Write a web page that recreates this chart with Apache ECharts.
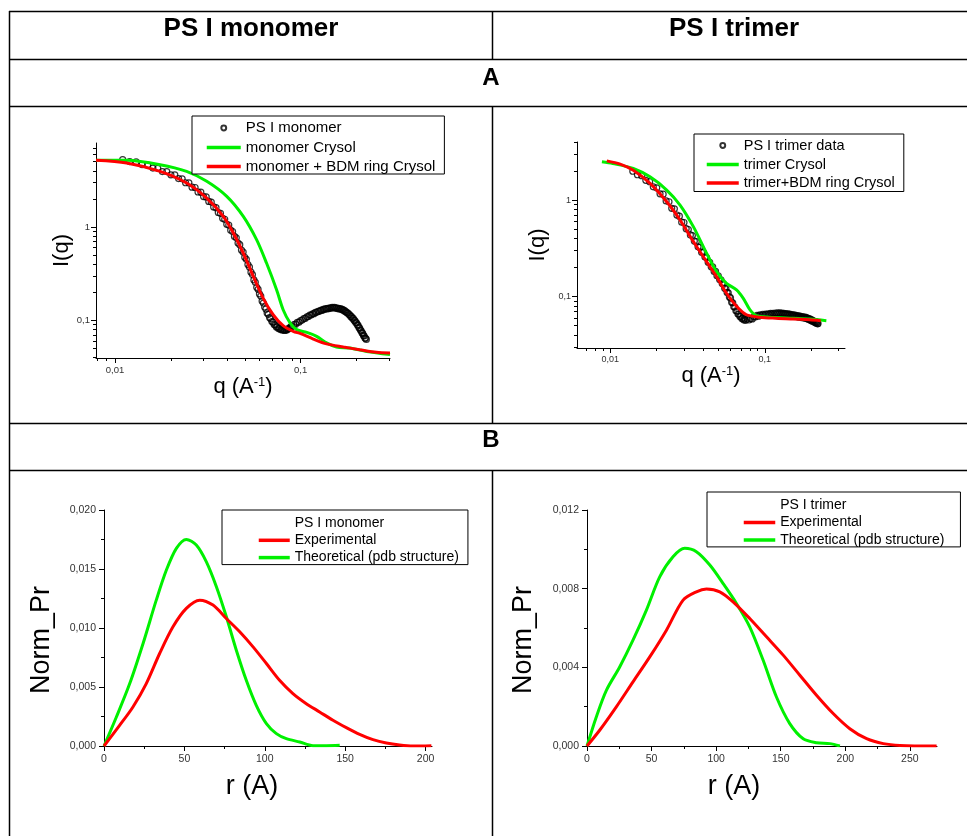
<!DOCTYPE html>
<html>
<head>
<meta charset="utf-8">
<script src="https://cdn.jsdelivr.net/npm/echarts@6/dist/echarts.min.js"></script>
<style>
html, body { margin: 0; padding: 0; background: #fff; }
#main { width: 967px; height: 836px; }
</style>
</head>
<body>
<div id="main"></div>
<script>
var FONT = 'Liberation Sans, Arial, Helvetica, sans-serif';

// ---- A: scattering curves, PS I monomer ----
var monoDataQ = [0.011, 0.012, 0.013, 0.014, 0.015, 0.016, 0.017, 0.018, 0.019, 0.020,
    0.021, 0.022, 0.023, 0.024, 0.025, 0.026, 0.027, 0.028, 0.029, 0.030,
    0.031, 0.032, 0.033, 0.034, 0.035, 0.036, 0.037, 0.038, 0.039, 0.040,
    0.041, 0.042, 0.043, 0.044, 0.045, 0.046, 0.047, 0.048, 0.049, 0.050,
    0.051, 0.052, 0.053, 0.054, 0.055, 0.056, 0.057, 0.058, 0.059, 0.060,
    0.061, 0.062, 0.063, 0.064, 0.065, 0.066, 0.067, 0.068, 0.069, 0.070,
    0.071, 0.072, 0.073, 0.074, 0.075, 0.076, 0.077, 0.078, 0.079, 0.080,
    0.081, 0.082, 0.083, 0.084, 0.085, 0.086, 0.087, 0.088, 0.089, 0.090,
    0.092, 0.094, 0.096, 0.098, 0.100, 0.102, 0.104, 0.106, 0.108, 0.110,
    0.112, 0.114, 0.116, 0.118, 0.120, 0.122, 0.124, 0.126, 0.128, 0.130,
    0.132, 0.134, 0.136, 0.138, 0.140, 0.142, 0.144, 0.146, 0.148, 0.150,
    0.152, 0.154, 0.156, 0.158, 0.160, 0.162, 0.164, 0.166, 0.168, 0.170,
    0.172, 0.174, 0.176, 0.178, 0.180, 0.182, 0.184, 0.186, 0.188, 0.190,
    0.192, 0.194, 0.196, 0.198, 0.200, 0.202, 0.204, 0.206, 0.208, 0.210,
    0.212, 0.214, 0.216, 0.218, 0.220, 0.222, 0.224, 0.226];
var monoDataI = [5.27, 5.02, 4.98, 4.66, 4.60, 4.28, 4.25, 3.92, 3.92, 3.62,
    3.61, 3.30, 3.28, 2.98, 2.97, 2.67, 2.65, 2.37, 2.36, 2.12,
    2.10, 1.88, 1.85, 1.64, 1.61, 1.43, 1.40, 1.24, 1.21, 1.07,
    1.05, 0.925, 0.895, 0.792, 0.765, 0.672, 0.646, 0.566, 0.540, 0.473,
    0.450, 0.396, 0.373, 0.328, 0.309, 0.271, 0.256, 0.226, 0.215, 0.192,
    0.182, 0.161, 0.153, 0.139, 0.132, 0.120, 0.116, 0.107, 0.104, 0.0970,
    0.0955, 0.0900, 0.0893, 0.0850, 0.0850, 0.0817, 0.0821, 0.0797, 0.0805, 0.0785,
    0.0795, 0.0780, 0.0795, 0.0786, 0.0808, 0.0806, 0.0832, 0.0832, 0.0860, 0.0860,
    0.0900, 0.0910, 0.0950, 0.0957, 0.0995, 0.1008, 0.1045, 0.1052, 0.1092, 0.1100,
    0.1138, 0.1140, 0.1175, 0.1179, 0.1215, 0.1218, 0.1252, 0.1248, 0.1280, 0.1276,
    0.1308, 0.1304, 0.1333, 0.1323, 0.1348, 0.1338, 0.1362, 0.1352, 0.1374, 0.1356,
    0.1374, 0.1352, 0.1362, 0.1338, 0.1348, 0.1323, 0.1333, 0.1304, 0.1308, 0.1277,
    0.1277, 0.1238, 0.1235, 0.1198, 0.1196, 0.1152, 0.1145, 0.1102, 0.1096, 0.1054,
    0.1048, 0.1004, 0.0993, 0.0950, 0.0940, 0.0898, 0.0883, 0.0840, 0.0825, 0.0786,
    0.0772, 0.0738, 0.0724, 0.0690, 0.0678, 0.0646, 0.0641, 0.0624];
var monoCrysolQ = [0.0079, 0.01156, 0.0175, 0.0243, 0.0312, 0.0400, 0.0491, 0.0579, 0.0655, 0.0742,
    0.0805, 0.0877, 0.0952, 0.108, 0.122, 0.138, 0.156, 0.184, 0.227, 0.303];
var monoCrysolI = [5.20, 5.18, 4.65, 3.94, 3.09, 2.13, 1.30, 0.732, 0.411, 0.213,
    0.130, 0.094, 0.0795, 0.0743, 0.0674, 0.0573, 0.0518, 0.0505, 0.0464, 0.0430];
var monoBdmQ = [0.0079, 0.01156, 0.0175, 0.0243, 0.0312, 0.0383, 0.0434, 0.0491, 0.0556, 0.0628,
    0.0711, 0.0805, 0.0913, 0.100, 0.117, 0.138, 0.170, 0.208, 0.256, 0.303];
var monoBdmI = [5.18, 4.85, 3.94, 2.96, 2.04, 1.30, 0.862, 0.526, 0.296, 0.173,
    0.115, 0.0876, 0.0762, 0.0720, 0.0630, 0.0559, 0.0518, 0.0485, 0.0455, 0.0447];

// ---- A: scattering curves, PS I trimer ----
var triDataQ = [0.014, 0.015, 0.016, 0.017, 0.018, 0.019, 0.020, 0.021, 0.022, 0.023,
    0.024, 0.025, 0.026, 0.027, 0.028, 0.029, 0.030, 0.031, 0.032, 0.033,
    0.034, 0.035, 0.036, 0.037, 0.038, 0.039, 0.040, 0.041, 0.042, 0.043,
    0.044, 0.045, 0.046, 0.047, 0.048, 0.049, 0.050, 0.051, 0.052, 0.053,
    0.054, 0.055, 0.056, 0.057, 0.058, 0.059, 0.060, 0.061, 0.062, 0.063,
    0.064, 0.065, 0.066, 0.067, 0.068, 0.069, 0.070, 0.071, 0.072, 0.073,
    0.074, 0.075, 0.077, 0.079, 0.081, 0.083, 0.085, 0.087, 0.089, 0.091,
    0.093, 0.095, 0.097, 0.099, 0.101, 0.103, 0.105, 0.107, 0.109, 0.111,
    0.113, 0.115, 0.117, 0.119, 0.121, 0.123, 0.125, 0.127, 0.129, 0.131,
    0.133, 0.135, 0.137, 0.139, 0.141, 0.143, 0.145, 0.147, 0.149, 0.151,
    0.153, 0.155, 0.157, 0.159, 0.161, 0.163, 0.165, 0.167, 0.169, 0.171,
    0.173, 0.175, 0.177, 0.179, 0.181, 0.183, 0.185, 0.187, 0.189, 0.191,
    0.193, 0.195, 0.197, 0.199, 0.201, 0.203, 0.205, 0.207, 0.209, 0.211,
    0.213, 0.215, 0.217, 0.219, 0.221];
var triDataI = [1.99, 1.83, 1.79, 1.60, 1.55, 1.37, 1.34, 1.16, 1.15, 0.98,
    0.96, 0.82, 0.81, 0.70, 0.68, 0.59, 0.585, 0.505, 0.495, 0.435,
    0.428, 0.376, 0.370, 0.327, 0.322, 0.288, 0.286, 0.256, 0.253, 0.227,
    0.226, 0.203, 0.203, 0.182, 0.182, 0.164, 0.164, 0.150, 0.149, 0.136,
    0.134, 0.122, 0.121, 0.110, 0.109, 0.0990, 0.0965, 0.0870, 0.0858, 0.0780,
    0.0775, 0.0710, 0.0706, 0.0658, 0.0655, 0.0618, 0.0620, 0.0590, 0.0596, 0.0572,
    0.0585, 0.0565, 0.0582, 0.0570, 0.0590, 0.0585, 0.0615, 0.0612, 0.0635, 0.0625,
    0.0645, 0.0636, 0.0652, 0.0641, 0.0657, 0.0647, 0.0662, 0.0652, 0.0668, 0.0655,
    0.0670, 0.0658, 0.0674, 0.0662, 0.0675, 0.0661, 0.0675, 0.0660, 0.0671, 0.0656,
    0.0669, 0.0654, 0.0665, 0.0650, 0.0660, 0.0645, 0.0655, 0.0638, 0.0650, 0.0633,
    0.0646, 0.0628, 0.0640, 0.0620, 0.0632, 0.0615, 0.0628, 0.0611, 0.0624, 0.0607,
    0.0619, 0.0602, 0.0615, 0.0598, 0.0611, 0.0596, 0.0606, 0.0588, 0.0598, 0.0580,
    0.0590, 0.0572, 0.0582, 0.0564, 0.0572, 0.0554, 0.0562, 0.0545, 0.0552, 0.0536,
    0.0546, 0.0532, 0.0538, 0.0520, 0.0523];
var triCrysolQ = [0.00884, 0.0104, 0.0141, 0.0181, 0.0232, 0.0283, 0.0345, 0.0420, 0.0487, 0.0565,
    0.0656, 0.0724, 0.0800, 0.0883, 0.107, 0.152, 0.195, 0.250];
var triCrysolI = [2.49, 2.39, 2.13, 1.74, 1.27, 0.888, 0.530, 0.281, 0.181, 0.137,
    0.117, 0.0962, 0.0730, 0.0631, 0.0610, 0.0594, 0.0583, 0.0561];
var triBdmQ = [0.0095, 0.0116, 0.0141, 0.0181, 0.0232, 0.0283, 0.0345, 0.0420, 0.0487, 0.0565,
    0.0656, 0.0761, 0.0927, 0.118, 0.152, 0.195, 0.230];
var triBdmI = [2.55, 2.36, 2.04, 1.49, 0.961, 0.621, 0.371, 0.230, 0.161, 0.108,
    0.0792, 0.0646, 0.0610, 0.0594, 0.0583, 0.0574, 0.0561];

// ---- B: distance distributions ----
var monoExpR = [0, 9.7, 18, 26.3, 34.6, 42.9, 51.2, 59.5, 67.8, 76.1, 84.4, 92.7, 101, 109.2,
    117.5, 125.8, 134.1, 142.4, 150.7, 159, 167.3, 175.6, 183.9, 192.2, 203.6];
var monoExpP = [0, 0.00175, 0.00331, 0.00529, 0.00784, 0.0101, 0.01166, 0.01236, 0.01194, 0.0108,
    0.00968, 0.0084, 0.00699, 0.00557, 0.00444, 0.00359, 0.00289, 0.00218, 0.00156, 0.00099,
    0.00054, 0.00025, 0.00008, 0, 0.00003];
var monoThR = [0, 7.7, 16, 24.3, 32.5, 38.8, 45, 51.2, 57.4, 63.6, 69.9, 76.1, 82.3, 88.5,
    94.7, 101, 107.2, 113.4, 121.7, 130, 138.3, 146.6];
var monoThP = [0, 0.00246, 0.00529, 0.00869, 0.01236, 0.01491, 0.01675, 0.01751, 0.01703, 0.01562,
    0.0135, 0.01095, 0.00812, 0.00557, 0.00345, 0.0019, 0.00105, 0.00062, 0.00034, 0.00003,
    0.00003, 0.00006];
var triExpR = [0, 9.8, 22.7, 35.6, 48.6, 61.5, 74.4, 84.7, 92.5, 102.8, 113.1, 126, 139, 151.9,
    164.8, 177.7, 190.6, 203.5, 216.5, 229.4, 242.3, 270.7];
var triExpP = [0, 0.0008, 0.00199, 0.00326, 0.00453, 0.00589, 0.00742, 0.00784, 0.00798, 0.00784,
    0.00733, 0.00648, 0.00555, 0.00462, 0.0036, 0.00258, 0.00165, 0.00088, 0.00037, 0.00012,
    0.00003, 0];
var triThR = [0, 7.2, 15, 25.3, 35.6, 46, 56.3, 66.6, 75.7, 84.7, 95.1, 105.4, 115.7, 126,
    136.4, 146.7, 157, 167.4, 177.7, 188, 195.8];
var triThP = [0, 0.00148, 0.00283, 0.00402, 0.00538, 0.00691, 0.0086, 0.00962, 0.01005, 0.00988,
    0.0092, 0.00826, 0.00725, 0.00606, 0.00436, 0.00249, 0.00114, 0.00037, 0.00017, 0.00012, 0];

// ---- tick values ----
var logMajorQ = [0.01, 0.1];
var logMajorI = [0.1, 1];
var monoMinorQ = [0.008, 0.009, 0.02, 0.03, 0.04, 0.05, 0.06, 0.07, 0.08, 0.09, 0.2, 0.3];
var monoMinorI = [0.04, 0.05, 0.06, 0.07, 0.08, 0.09, 0.2, 0.3, 0.4, 0.5, 0.6, 0.7, 0.8, 0.9, 2, 3, 4, 5, 6, 7];
var triMinorQ = [0.007, 0.008, 0.009, 0.02, 0.03, 0.04, 0.05, 0.06, 0.07, 0.08, 0.09, 0.2, 0.3];
var triMinorI = [0.03, 0.04, 0.05, 0.06, 0.07, 0.08, 0.09, 0.2, 0.3, 0.4, 0.5, 0.6, 0.7, 0.8, 0.9, 2, 3, 4];
var monoMajorR = [0, 50, 100, 150, 200];
var monoMinorR = [25, 75, 125, 175];
var monoMajorP = [0, 0.005, 0.01, 0.015, 0.02];
var monoMinorP = [0.0025, 0.0075, 0.0125, 0.0175];
var triMajorR = [0, 50, 100, 150, 200, 250];
var triMinorR = [25, 75, 125, 175, 225];
var triMajorP = [0, 0.004, 0.008, 0.012];
var triMinorP = [0.002, 0.006, 0.01];

var RED = '#ff0000';
var GREEN = '#00f000';
var SMALL_RING = 'path://M0,0M40,40M13,20a7,7 0 1,0 14,0a7,7 0 1,0 -14,0';
var legendTitles = { _monoTitle: 'PS I monomer', _triTitle: 'PS I trimer' };

function xy(xs, ys) {
    return xs.map(function (x, i) { return [x, ys[i]]; });
}
function comma(digits) {
    return function (v) {
        var s = digits == null ? String(v) : v.toFixed(digits);
        return s.replace('.', ',');
    };
}

var plots = [
    {left: 96, top: 143, width: 294, height: 215},
    {left: 577, top: 142, width: 268, height: 206},
    {left: 104, top: 510, width: 328, height: 236},
    {left: 587, top: 510, width: 350, height: 236}
];

var xAxes = [], yAxes = [];
function addAxis(list, gi, o) {
    list.push({
        type: o.type, gridIndex: gi, min: o.min, max: o.max,
        splitLine: {show: false},
        axisLine: {show: true, onZero: false, lineStyle: {color: '#000', width: 1}},
        axisTick: {show: true, length: 5, customValues: o.major, lineStyle: {color: '#000'}},
        axisLabel: {customValues: o.major, fontSize: o.fs, color: '#333', margin: o.margin,
            fontFamily: FONT, formatter: o.fmt},
        name: o.name, nameLocation: 'middle', nameGap: o.gap,
        nameTextStyle: {fontSize: o.nameSize, color: '#000', fontFamily: FONT, padding: o.pad || 0,
            rich: {s: {fontSize: Math.round(o.nameSize * 0.6), fontFamily: FONT, color: '#000', verticalAlign: 'top'}}}
    });
    // twin axis in an identical grid, only for the short minor ticks
    list.push({
        type: o.type, gridIndex: gi + 4, min: o.min, max: o.max,
        splitLine: {show: false},
        axisLine: {show: false, onZero: false},
        axisLabel: {show: false},
        axisTick: {show: true, length: 3, customValues: o.minor, lineStyle: {color: '#000'}}
    });
}

var axisCfg = [
    [{type: 'log', min: 0.0079, max: 0.303, major: logMajorQ, minor: monoMinorQ, fs: 9.5, margin: 7,
        fmt: comma(), name: 'q (A{s|-1})', nameSize: 22, gap: 9},
     {type: 'log', min: 0.0395, max: 7.94, major: logMajorI, minor: monoMinorI, fs: 9.5, margin: 6,
        fmt: comma(), name: 'I(q)', nameSize: 22, gap: 12}],
    [{type: 'log', min: 0.0061, max: 0.33, major: logMajorQ, minor: triMinorQ, fs: 9, margin: 7,
        fmt: comma(), name: 'q (A{s|-1})', nameSize: 22, gap: 11},
     {type: 'log', min: 0.0292, max: 4.0, major: logMajorI, minor: triMinorI, fs: 9, margin: 6,
        fmt: comma(), name: 'I(q)', nameSize: 22, gap: 28}],
    [{type: 'value', min: 0, max: 204, major: monoMajorR, minor: monoMinorR, fs: 10.5, margin: 8,
        fmt: comma(), name: 'r (A)', nameSize: 27, gap: 27, pad: [0, 32, 0, 0]},
     {type: 'value', min: 0, max: 0.020, major: monoMajorP, minor: monoMinorP, fs: 10.5, margin: 8,
        fmt: comma(3), name: 'Norm_Pr', nameSize: 27, gap: 49, pad: [0, 24, 0, 0]}],
    [{type: 'value', min: 0, max: 271, major: triMajorR, minor: triMinorR, fs: 10.5, margin: 8,
        fmt: comma(), name: 'r (A)', nameSize: 27, gap: 27, pad: [0, 56, 0, 0]},
     {type: 'value', min: 0, max: 0.012, major: triMajorP, minor: triMinorP, fs: 10.5, margin: 8,
        fmt: comma(3), name: 'Norm_Pr', nameSize: 27, gap: 50, pad: [0, 24, 0, 0]}]
];
var xTmp = [[], [], [], []], yTmp = [[], [], [], []];
axisCfg.forEach(function (c, i) {
    addAxis(xTmp[i], i, c[0]);
    addAxis(yTmp[i], i, c[1]);
});
// main axes first (index = plot), then the minor-tick twins (index = plot + 4)
for (var i = 0; i < 4; i++) { xAxes.push(xTmp[i][0]); yAxes.push(yTmp[i][0]); }
for (var j = 0; j < 4; j++) { xAxes.push(xTmp[j][1]); yAxes.push(yTmp[j][1]); }

function curve(name, idx, data, color) {
    return {
        type: 'line', name: name, xAxisIndex: idx, yAxisIndex: idx, data: data,
        symbol: 'none', smooth: 0.3, color: color,
        lineStyle: {color: color, width: 3}
    };
}
function points(name, idx, data) {
    return {
        type: 'scatter', name: name, xAxisIndex: idx, yAxisIndex: idx, data: data,
        symbol: 'circle', symbolSize: 6, color: 'rgba(0,0,0,0)',
        itemStyle: {color: 'rgba(0,0,0,0)', borderColor: '#000', borderWidth: 1.2}
    };
}
function blank(name, idx) {
    return {type: 'line', name: name, xAxisIndex: idx, yAxisIndex: idx, data: [],
        symbol: 'none', color: 'rgba(0,0,0,0)', lineStyle: {color: 'rgba(0,0,0,0)'}};
}

var series = [
    points('PS I monomer', 0, xy(monoDataQ, monoDataI)),
    curve('monomer Crysol', 0, xy(monoCrysolQ, monoCrysolI), GREEN),
    curve('monomer + BDM ring Crysol', 0, xy(monoBdmQ, monoBdmI), RED),
    points('PS I trimer data', 1, xy(triDataQ, triDataI)),
    curve('trimer Crysol', 1, xy(triCrysolQ, triCrysolI), GREEN),
    curve('trimer+BDM ring Crysol', 1, xy(triBdmQ, triBdmI), RED),
    blank('_monoTitle', 2),
    curve('Theoretical (pdb structure)', 2, xy(monoThR, monoThP), GREEN),
    curve('Experimental', 2, xy(monoExpR, monoExpP), RED),
    blank('_triTitle', 3),
    curve('Theoretical (pdb structure)', 3, xy(triThR, triThP), GREEN),
    curve('Experimental', 3, xy(triExpR, triExpP), RED)
];

// line entries: keep a thick stroke, hide the marker echarts puts in its middle
function lineItem(name) {
    return {name: name, itemStyle: {opacity: 0}, lineStyle: {width: 3.5}};
}
function legendBox(left, top, data, fs, iw, gap, pad) {
    return {
        orient: 'vertical', left: left, top: top, data: data,
        itemWidth: iw, itemHeight: 14, itemGap: gap, padding: pad,
        borderColor: '#000', borderWidth: 1, backgroundColor: '#fff',
        selectedMode: false,
        textStyle: {fontSize: fs, lineHeight: fs, color: '#000', fontFamily: FONT},
        formatter: function (n) { return legendTitles[n] || n; }
    };
}
var legends = [
    legendBox(192, 116, [{name: 'PS I monomer', icon: SMALL_RING}, lineItem('monomer Crysol'),
        lineItem('monomer + BDM ring Crysol')], 15, 34, 4, [4, 9, 0, 13]),
    legendBox(694, 134, [{name: 'PS I trimer data', icon: SMALL_RING}, lineItem('trimer Crysol'),
        lineItem('trimer+BDM ring Crysol')], 14.5, 32, 3.5, [3.5, 9, 1, 11]),
    legendBox(222, 510, [lineItem('_monoTitle'), lineItem('Experimental'), lineItem('Theoretical (pdb structure)')],
        14, 31, 3.3, [6, 9, 0, 35]),
    legendBox(707, 492, [lineItem('_triTitle'), lineItem('Experimental'), lineItem('Theoretical (pdb structure)')],
        14, 31.5, 3.3, [6.3, 16, 0, 35])
];

// table frame around the four panels
function hline(y) {
    return {type: 'line', shape: {x1: 9, y1: y, x2: 967, y2: y}, style: {stroke: '#000', lineWidth: 1.5}, silent: true};
}
function vline(x, y1, y2) {
    return {type: 'line', shape: {x1: x, y1: y1, x2: x, y2: y2}, style: {stroke: '#000', lineWidth: 1.5}, silent: true};
}
function label(text, x, y, size) {
    return {type: 'text', silent: true, style: {text: text, x: x, y: y, align: 'center', verticalAlign: 'middle',
        textAlign: 'center', textVerticalAlign: 'middle', fill: '#000',
        font: 'bold ' + size + 'px ' + FONT}};
}
var frame = [
    hline(11.5), hline(59.5), hline(106.5), hline(423.5), hline(470.5),
    vline(9.5, 11, 836),
    vline(492.5, 11, 59.5), vline(492.5, 106.5, 423.5), vline(492.5, 470.5, 836),
    label('PS I monomer', 251, 29, 26), label('PS I trimer', 734, 29, 26),
    label('A', 491, 78, 24), label('B', 491, 440, 24)
];

var chart = echarts.init(document.getElementById('main'), null, {renderer: 'canvas'});
chart.setOption({
    backgroundColor: '#fff',
    animation: false,
    textStyle: {fontFamily: FONT},
    grid: plots.concat(plots).map(function (p) {
        return {left: p.left, top: p.top, width: p.width, height: p.height, containLabel: false};
    }),
    xAxis: xAxes,
    yAxis: yAxes,
    legend: legends,
    series: series,
    graphic: frame
});
</script>
</body>
</html>
